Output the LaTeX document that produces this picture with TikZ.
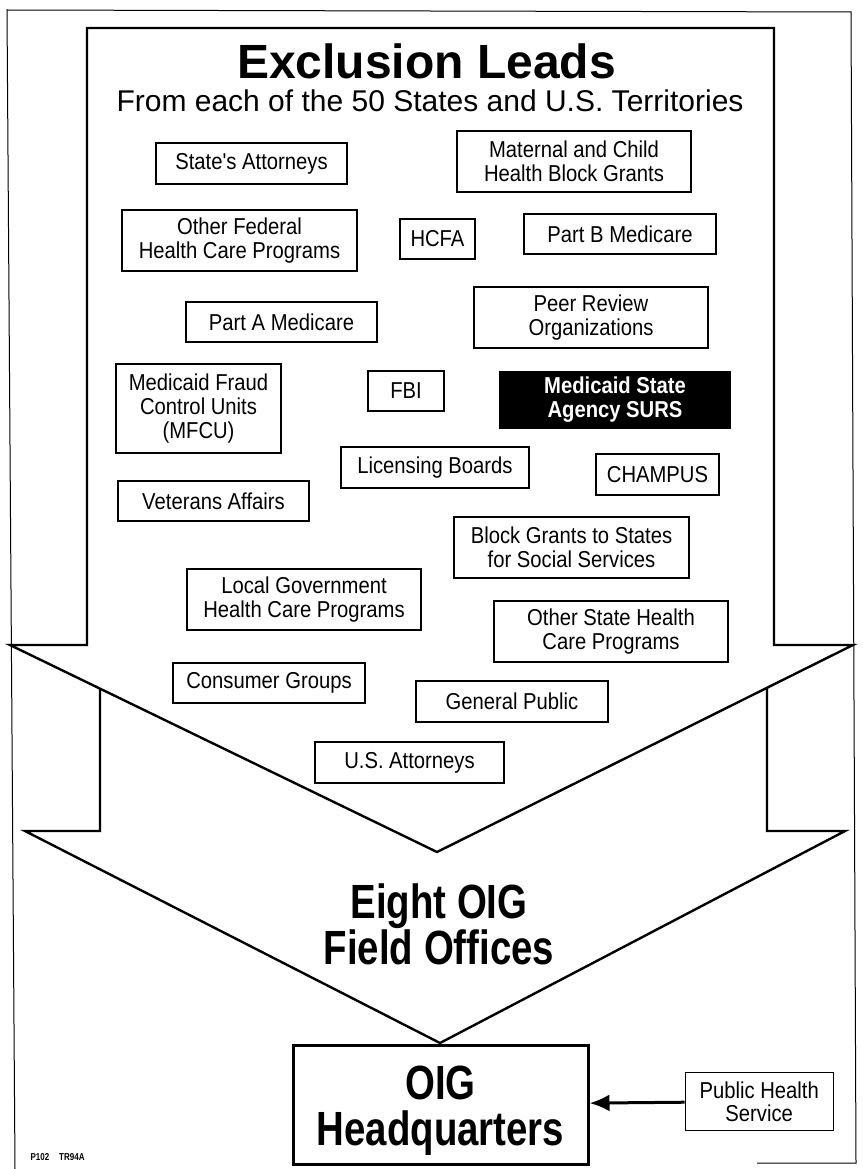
\documentclass[tikz,border=0pt]{standalone}
\usepackage{fontspec}
\setmainfont{Liberation Sans}
\newfontfamily\narrowfont[FakeStretch=0.88]{Liberation Sans}
\newfontfamily\condfont[FakeStretch=0.8]{Liberation Sans}
\usepackage{tikz}
\usetikzlibrary{arrows.meta,positioning}

\begin{document}
\begin{tikzpicture}[
  x=1pt, y=-1pt,
  every node/.style={align=center},
  leadbox/.style={rectangle, draw=black, fill=white, line width=1.4pt,
    inner sep=0pt, font=\narrowfont\fontsize{23}{24}\selectfont},
  survbox/.style={leadbox, fill=black, text=white,
    font=\narrowfont\bfseries\fontsize{23}{24}\selectfont},
  bigarrow/.style={draw=black, fill=white, line width=2.4pt, line join=miter},
  hqbox/.style={rectangle, draw=black, fill=white, line width=3pt, inner sep=0pt},
  hqtext/.style={font=\condfont\bfseries\fontsize{48}{46}\selectfont, inner sep=0pt},
  arr/.style={-{Latex[length=20pt,width=17pt]}, line width=3pt},
]
\useasboundingbox (0,0) rectangle (862,1169);

% Outer frame
\draw[line width=1pt] (15,1169) -- (7,10) -- (851,12) -- (856,1163) -- (757,1163);

% Field offices arrow (under the first one)
\draw[bigarrow] (100,640) -- (100,831) -- (25,831) -- (440,1043)
  -- (845,831) -- (767,831) -- (767,640) -- cycle;

% Exclusion leads arrow
\draw[bigarrow] (87,28) -- (87,645) -- (10,645) -- (437,852)
  -- (853,645) -- (774,645) -- (774,28) -- cycle;

% Headings
\node[font=\bfseries\fontsize{48}{48}\selectfont, anchor=base] (title)
  at (426.5,79) {Exclusion Leads};
\node[font=\fontsize{30}{30}\selectfont, anchor=base] (subtitle)
  at (430,112) {From each of the 50 States and U.S. Territories};

% Sources of leads
\node[leadbox, minimum width=191pt, minimum height=41pt] (statatt) at (251.5,163.5)
  {State's Attorneys};
\node[leadbox, minimum width=234pt, minimum height=61pt] (matchild) at (574,161.5)
  {Maternal and Child\\Health Block Grants};
\node[leadbox, minimum width=235pt, minimum height=61pt] (otherfed) at (239.5,240.5)
  {Other Federal\\Health Care Programs};
\node[leadbox, minimum width=75pt, minimum height=40pt] (hcfa) at (437.5,239)
  {HCFA};
\node[leadbox, minimum width=192pt, minimum height=40pt] (partb) at (620,234)
  {Part B Medicare};
\node[leadbox, minimum width=191pt, minimum height=40pt] (parta) at (281.5,322)
  {Part A Medicare};
\node[leadbox, minimum width=234pt, minimum height=61pt] (peer) at (591,317.5)
  {Peer Review\\Organizations};
\node[leadbox, minimum width=165pt, minimum height=89pt] (mfcu) at (198.5,408.5)
  {Medicaid Fraud\\Control Units\\(MFCU)};
\node[leadbox, minimum width=76pt, minimum height=40pt] (fbi) at (406,391)
  {FBI};
\node[survbox, minimum width=230pt, minimum height=56pt] (surs) at (615,400)
  {Medicaid State\\Agency SURS};
\node[leadbox, minimum width=188pt, minimum height=41pt] (licens) at (435,467.5)
  {Licensing Boards};
\node[leadbox, minimum width=123pt, minimum height=41pt] (champus) at (657.5,474.5)
  {CHAMPUS};
\node[leadbox, minimum width=191pt, minimum height=40pt] (veterans) at (213.5,501)
  {Veterans Affairs};
\node[leadbox, minimum width=235pt, minimum height=61pt] (blockgr) at (571.5,547.5)
  {Block Grants to States\\for Social Services};
\node[leadbox, minimum width=234pt, minimum height=61pt] (localgov) at (304,599.5)
  {Local Government\\Health Care Programs};
\node[leadbox, minimum width=234pt, minimum height=61pt] (otherst) at (611,631.5)
  {Other State Health\\Care Programs};
\node[leadbox, minimum width=192pt, minimum height=40pt] (consumer) at (269,683)
  {Consumer Groups};
\node[leadbox, minimum width=192pt, minimum height=41pt] (public) at (512,701.5)
  {General Public};
\node[leadbox, minimum width=189pt, minimum height=41pt] (usatt) at (409.5,762.5)
  {U.S. Attorneys};

% Field offices
\node[font=\condfont\bfseries\fontsize{48}{42}\selectfont, inner sep=0pt] (field)
  at (439,924) {Eight OIG\\Field Offices};

% Headquarters
\node[hqbox, minimum width=295pt, minimum height=119pt] (hq) at (440.5,1104.5) {};
\node[hqtext] (hqlabel) at ([yshift=-6pt]hq.center) {OIG\\Headquarters};
\node[leadbox, right=95pt of hq, yshift=3pt, minimum width=148pt, minimum height=58pt,
      font=\narrowfont\fontsize{23}{23}\selectfont] (phs)
  {Public Health\\Service};
\draw[arr] (phs) -- (hq);

% Plate code
\node[font=\condfont\bfseries\fontsize{10}{10}\selectfont, anchor=base west] (code)
  at (27,1160) {P102\quad TR94A};
\end{tikzpicture}
\end{document}
